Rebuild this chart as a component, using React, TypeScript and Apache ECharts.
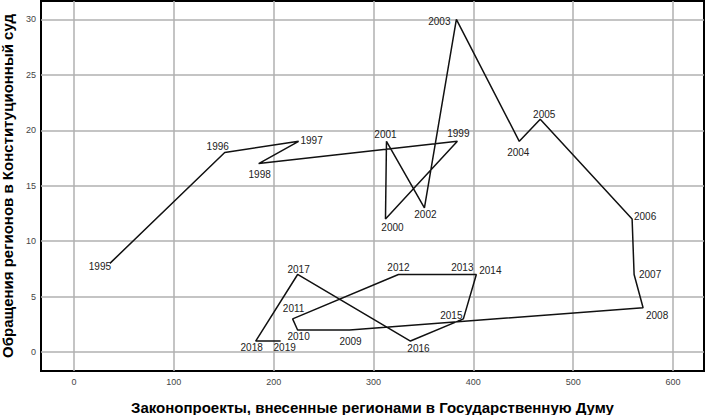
import React, { useEffect, useRef } from "react";
import * as echarts from "echarts";

const years = ["1995","1996","1997","1998","1999","2000","2001","2002","2003","2004","2005","2006","2007","2008","2009","2010","2011","2012","2013","2014","2015","2016","2017","2018","2019"];
const bills = [36, 151, 225, 185, 384, 312, 313, 351, 383, 446, 467, 559, 561, 570, 276, 224, 219, 325, 400, 403, 390, 337, 224, 182, 207];
const appeals = [8, 18, 19, 17, 19, 12, 19, 13, 30, 19, 21, 12, 7, 4, 2, 2, 3, 7, 7, 7, 3, 1, 7, 1, 1];
const xTicks = [0, 100, 200, 300, 400, 500, 600];
const yTicks = [0, 5, 10, 15, 20, 25, 30];

// label offsets (style only): [dx, dy] of label centre from the point
const labelOffsets: Record<string, [number, number]> = {
  "1995": [-10, 3], "1996": [-7, -6], "1997": [13, -1], "1998": [1, 11], "1999": [1, -8],
  "2000": [7, 8], "2001": [-1, -7], "2002": [1, 7], "2003": [-17, 2], "2004": [-1, 11],
  "2005": [4, -5], "2006": [13, -3], "2007": [16, 0], "2008": [14, 8], "2009": [1, 12],
  "2010": [1, 7], "2011": [1, -10], "2012": [0, -7], "2013": [-11, -7], "2014": [14, -4],
  "2015": [-12, -3], "2016": [8, 7], "2017": [1, -5], "2018": [-4, 6], "2019": [4, 6],
};

const FONT = "'Liberation Sans', Arial, sans-serif";

export default function App() {
  const ref = useRef<HTMLDivElement>(null);
  useEffect(() => {
    if (!ref.current) return;
    const chart = echarts.init(ref.current, undefined, { renderer: "svg" });
    const data = years.map((y, i) => ({
      value: [bills[i], appeals[i]],
      name: y,
      label: { offset: labelOffsets[y] || [0, 0] },
    }));
    chart.setOption({
      animation: false,
      backgroundColor: "#fff",
      grid: {
        left: 41, right: 2, top: 1, bottom: 44,
        containLabel: false,
        outerBoundsMode: "none",
        show: true, borderColor: "#000", borderWidth: 2, backgroundColor: "transparent",
      },
      xAxis: {
        type: "value",
        min: -33, max: 631,
        name: "Законопроекты, внесенные регионами в Государственную Думу",
        nameLocation: "middle",
        nameGap: 29,
        nameTextStyle: { fontFamily: FONT, fontWeight: "bold", fontSize: 15, color: "#000" },
        axisLine: { show: false },
        axisTick: { show: false, customValues: xTicks },
        axisLabel: { customValues: xTicks, fontFamily: FONT, fontSize: 9, color: "#444", margin: 6 },
        splitLine: { show: false },
      },
      yAxis: {
        type: "value",
        min: -1.7, max: 31.65,
        name: "Обращения регионов в Конституционный суд",
        nameLocation: "middle",
        nameGap: 14,
        nameTextStyle: { fontFamily: FONT, fontWeight: "bold", fontSize: 15, color: "#000" },
        axisLine: { show: false },
        axisTick: { show: false, customValues: yTicks },
        axisLabel: { customValues: yTicks, fontFamily: FONT, fontSize: 9, color: "#444", margin: 5 },
        splitLine: { show: false },
      },
      series: [
        {
          type: "line",
          silent: true,
          symbol: "none",
          data: [],
          markLine: {
            silent: true,
            symbol: "none",
            label: { show: false },
            lineStyle: { color: "#b0b0b0", width: 1.5, type: "solid" },
            data: [
              ...xTicks.map((v) => ({ xAxis: v })),
              ...yTicks.map((v) => ({ yAxis: v })),
            ],
          },
        },
        {
          type: "line",
          data,
          symbol: "circle",
          symbolSize: 1,
          showSymbol: true,
          itemStyle: { color: "transparent" },
          lineStyle: { color: "#111", width: 1.5 },
          z: 5,
          label: {
            show: true,
            position: "inside",
            formatter: (p: any) => p.name,
            fontFamily: FONT,
            fontSize: 10,
            color: "#222",
            align: "center",
            verticalAlign: "middle",
          },
        },
      ],
    });
    return () => chart.dispose();
  }, []);
  return (
    <div
      ref={ref}
      style={{ position: "fixed", left: 0, top: 0, width: 706, height: 415, background: "#fff" }}
    />
  );
}
